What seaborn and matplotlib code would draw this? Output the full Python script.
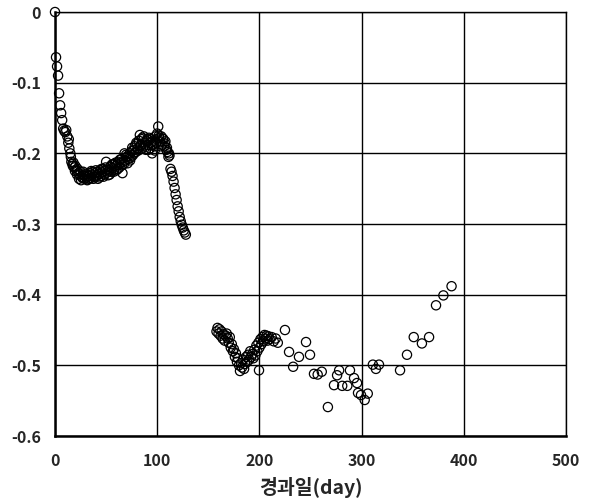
import matplotlib
matplotlib.use("Agg")
import matplotlib.pyplot as plt
import seaborn as sns
import pandas as pd

# ---- data (day, displacement) ----
days_a = list(range(0, 129))
vals_a = [0.000, -0.064, -0.077, -0.090, -0.115, -0.132, -0.143, -0.153, -0.165, -0.168,
          -0.170, -0.167, -0.176, -0.185, -0.193, -0.200, -0.212, -0.215, -0.213, -0.220,
          -0.218, -0.224, -0.222, -0.228, -0.230, -0.226, -0.233, -0.235, -0.231, -0.236,
          -0.229, -0.234, -0.237, -0.232, -0.228, -0.235, -0.230, -0.226, -0.233, -0.228,
          -0.224, -0.231, -0.236, -0.229, -0.224, -0.232, -0.227, -0.222, -0.230, -0.225,
          -0.212, -0.227, -0.231, -0.224, -0.219, -0.226, -0.221, -0.215, -0.223, -0.218,
          -0.224, -0.216, -0.212, -0.220, -0.214, -0.208, -0.228, -0.212, -0.200, -0.210,
          -0.205, -0.214, -0.208, -0.200, -0.206, -0.197, -0.203, -0.195, -0.190, -0.198,
          -0.187, -0.193, -0.182, -0.174, -0.188, -0.180, -0.192, -0.176, -0.185, -0.195,
          -0.180, -0.188, -0.178, -0.193, -0.185, -0.200, -0.182, -0.190, -0.176, -0.185,
          -0.172, -0.162, -0.178, -0.183, -0.176, -0.188, -0.180, -0.190, -0.183, -0.195,
          -0.198, -0.205, -0.203, -0.222, -0.226, -0.232, -0.240, -0.249, -0.258, -0.266,
          -0.275, -0.282, -0.290, -0.296, -0.301, -0.305, -0.309, -0.312, -0.315]

days_b = [13.5, 15.5, 17.5, 19.5, 21.5, 23.5, 25.5, 27.5, 29.5, 31.5, 33.5, 35.5, 37.5,
          39.5, 41.5, 43.5, 45.5, 47.5, 49.5, 51.5, 53.5, 55.5, 57.5, 59.5, 61.5, 63.5,
          65.5, 67.5, 69.5, 71.5, 73.5, 75.5, 77.5, 79.5, 81.5, 83.5, 85.5, 87.5, 89.5,
          91.5, 93.5, 95.5, 97.5, 99.5, 101.5, 103.5, 105.5, 107.5, 109.5, 111.5]
vals_b = [-0.180, -0.205, -0.218, -0.225, -0.230, -0.236, -0.238, -0.226, -0.232, -0.238,
          -0.236, -0.225, -0.236, -0.233, -0.226, -0.234, -0.222, -0.233, -0.220, -0.223,
          -0.230, -0.216, -0.226, -0.213, -0.222, -0.209, -0.217, -0.215, -0.202, -0.204,
          -0.210, -0.192, -0.200, -0.185, -0.196, -0.190, -0.178, -0.189, -0.183, -0.195,
          -0.180, -0.188, -0.196, -0.180, -0.175, -0.190, -0.179, -0.186, -0.192, -0.200]

days_c = [158, 159, 160, 161, 162, 163, 164, 165, 166, 167, 168, 169, 170, 171, 172, 173,
          174, 175, 176, 177, 178, 179, 180, 181, 182, 183, 184, 185, 186, 187, 188, 189,
          190, 191, 192, 193, 194, 195, 196, 197, 198, 199, 200, 201, 202, 203, 204, 205,
          206, 207, 208, 209, 210, 212, 214, 216, 218, 199.6]
vals_c = [-0.452, -0.447, -0.455, -0.449, -0.458, -0.452, -0.462, -0.456, -0.465, -0.458,
          -0.455, -0.462, -0.468, -0.460, -0.475, -0.470, -0.480, -0.477, -0.488, -0.483,
          -0.495, -0.490, -0.500, -0.508, -0.497, -0.503, -0.492, -0.505, -0.498, -0.488,
          -0.495, -0.485, -0.492, -0.480, -0.488, -0.484, -0.490, -0.478, -0.486, -0.472,
          -0.480, -0.468, -0.475, -0.463, -0.470, -0.460, -0.466, -0.457, -0.462, -0.458,
          -0.465, -0.459, -0.463, -0.460, -0.466, -0.462, -0.468, -0.507]

days_d = [225, 229, 233, 238.7, 245.6, 249.5, 253.4, 257, 261, 267, 273, 276, 278, 281,
          286, 288.6, 292.6, 295.5, 296.5, 299.4, 303, 306, 311, 314, 317, 337.6, 344.4,
          351, 359, 366, 372.8, 380, 388]
vals_d = [-0.450, -0.481, -0.502, -0.488, -0.467, -0.485, -0.512, -0.513, -0.509, -0.559,
          -0.528, -0.514, -0.507, -0.529, -0.529, -0.507, -0.518, -0.525, -0.539, -0.542,
          -0.549, -0.540, -0.499, -0.505, -0.499, -0.507, -0.485, -0.460, -0.469, -0.460,
          -0.415, -0.401, -0.388]

x_ticks = [0, 100, 200, 300, 400, 500]
y_ticks = [0, -0.1, -0.2, -0.3, -0.4, -0.5, -0.6]
y_tick_labels = ["0", "-0.1", "-0.2", "-0.3", "-0.4", "-0.5", "-0.6"]
x_label = "경과일(day)"

df = pd.DataFrame({"day": days_a + days_b + days_c + days_d,
                   "value": vals_a + vals_b + vals_c + vals_d})

sns.set_style("white")
plt.rcParams["font.family"] = ["Noto Sans CJK KR", "DejaVu Sans"]
plt.rcParams["axes.unicode_minus"] = False

fig = plt.figure(figsize=(5.96, 5.01), dpi=100)
ax = fig.add_axes([0.0923, 0.1297, 0.8574, 0.8463])

sns.scatterplot(data=df, x="day", y="value", ax=ax, marker="o", s=44,
                facecolor="none", edgecolor="black", linewidth=0.9, zorder=3,
                clip_on=False)

ax.set_xlim(0, 500)
ax.set_ylim(-0.6, 0)
ax.set_xticks(x_ticks)
ax.set_yticks(y_ticks)
ax.set_yticklabels(y_tick_labels)
ax.set_xticklabels([str(t) for t in x_ticks])
ax.grid(True, color="black", linewidth=1.0)
ax.set_axisbelow(True)
ax.tick_params(length=0, labelsize=11.5, pad=10)
ax.tick_params(axis="x", pad=12)
for lab in ax.get_xticklabels() + ax.get_yticklabels():
    lab.set_fontweight("bold")
for side in ["top", "right"]:
    ax.spines[side].set_color("black")
    ax.spines[side].set_linewidth(1.0)
for side in ["left", "bottom"]:
    ax.spines[side].set_color("black")
    ax.spines[side].set_linewidth(1.8)
ax.set_xlabel(x_label, fontsize=14, fontweight="bold", labelpad=6)
ax.set_ylabel("")

fig.savefig("out.png", dpi=100)
